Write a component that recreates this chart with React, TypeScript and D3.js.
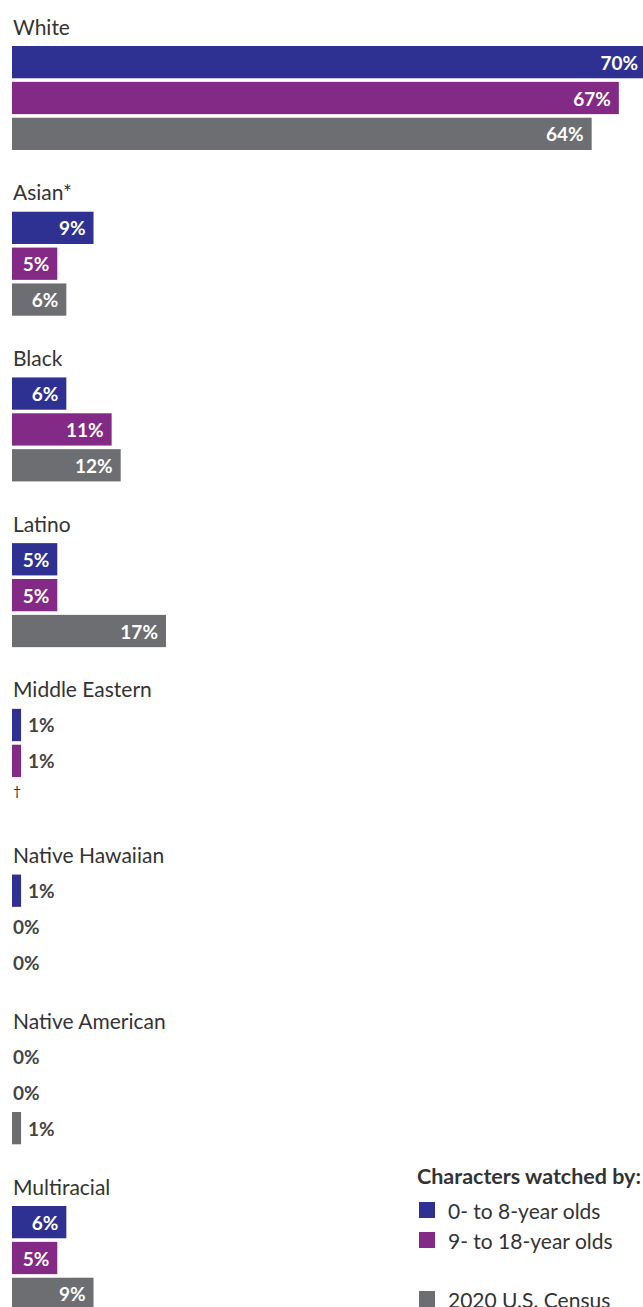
import * as d3 from "d3";

const groups = ["White", "Asian*", "Black", "Latino", "Middle Eastern", "Native Hawaiian", "Native American", "Multiracial"];
const series = ["0- to 8-year olds", "9- to 18-year olds", "2020 U.S. Census"];
const young = [70, 9, 6, 5, 1, 1, 0, 6];
const older = [67, 5, 11, 5, 1, 0, 0, 5];
const census: (number | null)[] = [64, 6, 12, 17, null, 0, 1, 9];
const colors = ["#2e3192", "#822a86", "#6d6e71"];

const width = 643;
const height = 1307;
const font = "Lato, 'Open Sans', sans-serif";

export default function App() {
  const x = d3.scaleLinear().domain([0, 70]).range([12, 646]);
  const gy = d3.scalePoint<string>().domain(groups).range([26, 1186]);
  const by = d3.scaleBand<string>().domain(series).range([20, 124]).paddingInner(0.1);

  const values = [young, older, census];

  return (
    <svg width={width} height={height} style={{ position: "absolute", left: 0, top: 0 }} fontFamily={font}>
      {groups.map((g, gi) => {
        const y0 = gy(g)!;
        return (
          <g key={g}>
            <text x={13} y={y0} dominantBaseline="central" fontSize={21} fill="#333">{g}</text>
            {series.map((s, si) => {
              const v = values[si][gi];
              const top = y0 + by(s)!;
              const mid = top + by.bandwidth() / 2;
              if (v === null) {
                return (
                  <text key={s} x={13} y={mid - 6} dominantBaseline="central" fontSize={14} fill="#333">†</text>
                );
              }
              const w = x(v) - x(0);
              const inside = w > 30;
              return (
                <g key={s}>
                  {w > 0 && <rect x={x(0)} y={top} width={w} height={by.bandwidth()} fill={colors[si]} />}
                  <text
                    x={inside ? x(v) - 8 : v === 0 ? 13 : x(v) + 7}
                    y={mid}
                    dominantBaseline="central"
                    textAnchor={inside ? "end" : "start"}
                    fontSize={19}
                    fontWeight="bold"
                    fill={inside ? "#fff" : "#444"}
                  >
                    {v}%
                  </text>
                </g>
              );
            })}
          </g>
        );
      })}
      <g>
        <text x={417} y={1176} dominantBaseline="central" fontSize={21.5} fontWeight="bold" fill="#333">Characters watched by:</text>
        {series.map((s, si) => {
          const cy = [1210, 1240, 1299][si];
          return (
            <g key={s}>
              <rect x={419} y={cy - 8} width={16} height={16} fill={colors[si]} />
              <text x={448} y={cy} dominantBaseline="central" fontSize={21} fill="#333">{s}</text>
            </g>
          );
        })}
      </g>
    </svg>
  );
}
